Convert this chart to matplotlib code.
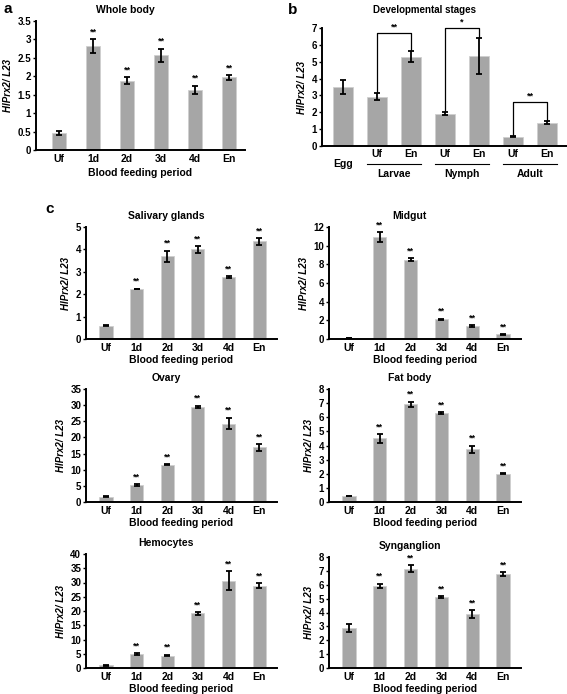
import numpy as np
import matplotlib
matplotlib.use("Agg")
import matplotlib.pyplot as plt
import matplotlib.transforms as mtransforms

plt.rcParams['font.family'] = ['Liberation Sans', 'DejaVu Sans']
plt.rcParams['font.weight'] = 'bold'
plt.rcParams['axes.labelweight'] = 'bold'
plt.rcParams['axes.titleweight'] = 'bold'

BAR_COLOR = '#a6a6a6'
EDGE_COLOR = '#cfcfcf'
W, H = 567, 694

days = ["Uf", "1d", "2d", "3d", "4d", "En"]
ylab = "HlPrx2/ L23"

# panel a: whole body
whole_mean = [0.47, 2.82, 1.88, 2.57, 1.64, 1.97]
whole_err = [0.05, 0.18, 0.10, 0.18, 0.11, 0.06]
whole_sig = ["", "**", "**", "**", "**", "**"]

# panel b: developmental stages
stage_ticks = ["", "Uf", "En", "Uf", "En", "Uf", "En"]
stage_groups = ["Larvae", "Nymph", "Adult"]
stage_mean = [3.5, 2.93, 5.30, 1.92, 5.33, 0.55, 1.38]
stage_err = [0.40, 0.20, 0.33, 0.10, 1.05, 0.02, 0.10]
bracket_pairs = [(1, 2), (3, 4), (5, 6)]
bracket_y = [6.7, 7.0, 2.62]
bracket_sig = ["**", "*", "**"]

# panel c: tissues
sal_mean = [0.59, 2.23, 3.69, 4.00, 2.77, 4.36]
sal_err = [0.02, 0.02, 0.25, 0.15, 0.05, 0.15]
mid_mean = [0.14, 10.93, 8.50, 2.10, 1.39, 0.50]
mid_err = [0.02, 0.50, 0.15, 0.08, 0.08, 0.05]
ova_mean = [1.64, 5.13, 11.6, 29.5, 24.3, 16.9]
ova_err = [0.15, 0.30, 0.15, 0.30, 1.80, 1.00]
fat_mean = [0.42, 4.50, 6.93, 6.30, 3.75, 2.00]
fat_err = [0.03, 0.30, 0.17, 0.05, 0.25, 0.05]
hem_mean = [0.94, 4.80, 4.35, 19.2, 30.7, 28.9]
hem_err = [0.10, 0.30, 0.30, 0.50, 3.20, 0.90]
syn_mean = [2.88, 5.91, 7.16, 5.12, 3.89, 6.75]
syn_err = [0.30, 0.18, 0.25, 0.04, 0.30, 0.14]
tissue_sig = ["", "**", "**", "**", "**", "**"]


def px_axes(fig, left, top, right, bottom):
    return fig.add_axes([left / W, 1 - bottom / H, (right - left) / W, (bottom - top) / H])


def style(ax, ymax, ystep):
    for s in ["top", "right"]:
        ax.spines[s].set_visible(False)
    for s in ["left", "bottom"]:
        ax.spines[s].set_linewidth(1.4)
    ax.set_ylim(0, ymax)
    ax.set_yticks(np.arange(0, ymax + ystep / 2, ystep))
    ax.set_yticklabels([f"{v:g}" for v in np.arange(0, ymax + ystep / 2, ystep)])
    ax.tick_params(axis='y', length=2.5, width=1, labelsize=7, pad=1)
    ax.tick_params(axis='x', length=0, labelsize=7.5, pad=3)
    ax.set_ylabel(ylab, fontsize=7, style='italic', fontweight='bold', labelpad=3)


def bars(ax, mean, err, width):
    x = np.arange(len(mean))
    ax.bar(x, mean, width=width, color=BAR_COLOR, edgecolor=EDGE_COLOR, linewidth=0.6)
    ax.errorbar(x, mean, yerr=err, fmt='none', ecolor='black', elinewidth=1.3,
                capsize=2, capthick=1.3)
    return x


def stars(ax, x, mean, err, sig):
    for xi, m, e, s in zip(x, mean, err, sig):
        if s:
            ax.annotate(s, xy=(xi, m + e), xytext=(0, 2), textcoords='offset points',
                        ha='center', va='bottom', fontsize=6.5, fontweight='bold')


fig = plt.figure(figsize=(W / 100, H / 100), dpi=100)

# ---- panel a
ax = px_axes(fig, 36, 21, 245, 150)
x = bars(ax, whole_mean, whole_err, 0.42)
stars(ax, x, whole_mean, whole_err, whole_sig)
ax.set_xlim(-0.68, 5.47)
ax.set_xticks(x)
ax.set_xticklabels(days)
style(ax, 3.5, 0.5)
ax.set_xlabel("Blood feeding period", fontsize=7.5, labelpad=3)
ax.set_title("Whole body", fontsize=7.5, x=0.43, pad=6)
fig.text(3 / W, 1 - 9 / H, "a", fontsize=11, fontweight='bold', va='center')

# ---- panel b
ax = px_axes(fig, 322, 28, 567, 146)
x = bars(ax, stage_mean, stage_err, 0.57)
ax.set_xlim(-0.62, 6.59)
ax.set_xticks(x)
ax.set_xticklabels(stage_ticks)
style(ax, 7, 1)
ax.tick_params(axis='x', pad=2)
for (i, j), by, s in zip(bracket_pairs, bracket_y, bracket_sig):
    yi = stage_mean[i] + stage_err[i] + 0.08
    yj = stage_mean[j] + stage_err[j] + 0.08
    ax.plot([i, i, j, j], [yi, by, by, yj], color='black', lw=0.9, clip_on=False)
    ax.annotate(s, xy=((i + j) / 2, by), xytext=(0, 1), textcoords='offset points',
                ha='center', va='bottom', fontsize=6.5, fontweight='bold')
trans = mtransforms.blended_transform_factory(ax.transData, ax.transAxes)
ax.text(0, -0.15, "Egg", transform=trans, ha='center', va='center', fontsize=7.5)
for (i, j), g in zip(bracket_pairs, stage_groups):
    ax.plot([i - 0.3, j + 0.3], [-0.155, -0.155], transform=trans, color='black',
            lw=0.8, clip_on=False)
    ax.text((i + j) / 2, -0.235, g, transform=trans, ha='center', va='center', fontsize=7.5)
ax.set_title("Developmental stages", fontsize=7, x=0.42, pad=11)
fig.text(288 / W, 1 - 10 / H, "b", fontsize=11, fontweight='bold', va='center')

# ---- panel c
tissues = [
    ("Salivary glands", sal_mean, sal_err, 5, 1, (86, 227, 277, 339)),
    ("Midgut", mid_mean, mid_err, 12, 2, (329, 227, 521, 339)),
    ("Ovary", ova_mean, ova_err, 35, 5, (86, 389, 277, 502)),
    ("Fat body", fat_mean, fat_err, 8, 1, (329, 389, 521, 502)),
    ("Hemocytes", hem_mean, hem_err, 40, 5, (86, 554, 277, 668)),
    ("Synganglion", syn_mean, syn_err, 8, 1, (329, 557, 521, 668)),
]
for name, mean, err, ymax, step, box in tissues:
    ax = px_axes(fig, *box)
    x = bars(ax, mean, err, 0.43)
    stars(ax, x, mean, err, tissue_sig)
    ax.set_xlim(-0.65, 5.58)
    ax.set_xticks(x)
    ax.set_xticklabels(days)
    style(ax, ymax, step)
    ax.set_xlabel("Blood feeding period", fontsize=7.5, labelpad=1)
    ax.set_title(name, fontsize=7.5, x=0.42, pad=6)
fig.text(45 / W, 1 - 209 / H, "c", fontsize=11, fontweight='bold', va='center')

fig.savefig("out.png", dpi=100)
